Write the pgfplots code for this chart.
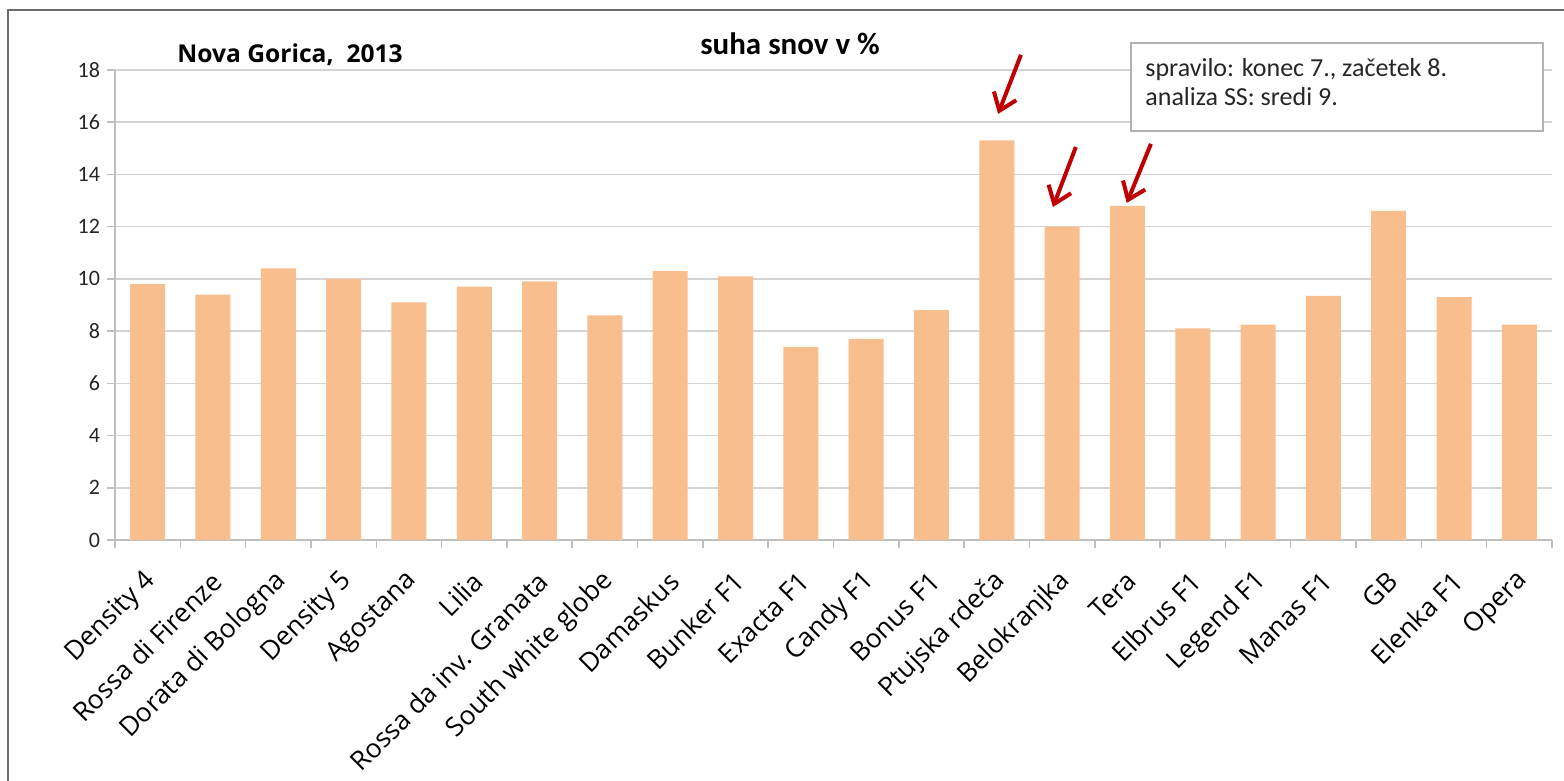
\documentclass[border=0pt]{standalone}
\usepackage{pgfplots}
\pgfplotsset{compat=1.18}
\usepackage{fontspec}
\setmainfont{Carlito}
\newfontfamily\comic{Open Sans}
\usetikzlibrary{arrows.meta}
\definecolor{barc}{HTML}{F9BE8E}
\definecolor{gridc}{HTML}{D4D4D4}
\definecolor{axisc}{HTML}{BFBFBF}
\definecolor{arr}{HTML}{C00000}
\definecolor{txt}{HTML}{262626}

\begin{document}
\begin{tikzpicture}[x=1pt,y=1pt]
\useasboundingbox (0,0) rectangle (782,390.5);
\fill[white] (0,0) rectangle (782,390.5);
\draw[gray!85!black, line width=0.9pt] (4,-2) -- (4,385.5) -- (784,385.5);
\begin{axis}[
  at={(57.5pt,120.5pt)}, anchor=south west,
  width=718.5pt, height=235pt, scale only axis,
  xmin=-0.5, xmax=21.5, ymin=0, ymax=18,
  ytick={0,2,...,18},
  xtick={0,...,21},
  xticklabels={Density 4, Rossa di Firenze, Dorata di Bologna, Density 5, Agostana, Lilia, Rossa da inv. Granata, South white globe, Damaskus, Bunker F1, Exacta F1, Candy F1, Bonus F1, Ptujska rdeča, Belokranjka, Tera, Elbrus F1, Legend F1, Manas F1, GB, Elenka F1, Opera},
  minor xtick={-0.5,0.5,...,21.5},
  axis lines*=left,
  ymajorgrids, grid style={gridc, line width=0.75pt},
  tick align=outside,
  major tick length=4pt, minor tick length=4pt,
  major x tick style={draw=none},
  tick style={axisc, line width=0.75pt},
  axis line style={axisc, line width=0.75pt},
  /pgf/number format/assume math mode=true,
  yticklabel style={font=\fontsize{11}{13}\selectfont, text=txt},
  xticklabel style={font=\comic\fontsize{13.2}{15}\selectfont, xshift=4.4pt, yshift=-12pt, rotate=45, anchor=east},
  ybar, bar width=17.5pt,
  clip=false,
]
\addplot[fill=barc, draw=none] coordinates {
 (0,9.8) (1,9.4) (2,10.4) (3,10.0) (4,9.1) (5,9.7) (6,9.9) (7,8.6) (8,10.3) (9,10.1) (10,7.4)
 (11,7.7) (12,8.8) (13,15.3) (14,12.0) (15,12.8) (16,8.1) (17,8.25) (18,9.35) (19,12.6) (20,9.3) (21,8.25)};
\draw[arr, line width=2pt, -{Straight Barb[length=8pt,width=12pt]}] (axis cs:13.37,18.58) -- (axis cs:13.02,16.32);
\draw[arr, line width=2pt, -{Straight Barb[length=8pt,width=12pt]}] (axis cs:14.21,15.05) -- (axis cs:13.86,12.75);
\draw[arr, line width=2pt, -{Straight Barb[length=8pt,width=12pt]}] (axis cs:15.36,15.17) -- (axis cs:14.99,12.91);
\end{axis}
\node[anchor=base west, inner sep=0pt, font=\comic\bfseries\fontsize{12.3}{14}\selectfont] at (88.5,359) {Nova Gorica,\ \ 2013};
\node[anchor=base, inner sep=0pt, font=\bfseries\fontsize{15.5}{18}\selectfont] at (395,363) {suha snov v \%};
\draw[gray!60, line width=0.75pt, fill=white] (565.5,325) rectangle (771.5,369);
\node[anchor=base west, inner sep=0pt, text=txt, font=\fontsize{13}{16}\selectfont] at (572.5,352) {spravilo: konec 7., začetek 8.};
\node[anchor=base west, inner sep=0pt, text=txt, font=\fontsize{13}{16}\selectfont] at (572.5,337.5) {analiza SS: sredi 9.};
\end{tikzpicture}
\end{document}
